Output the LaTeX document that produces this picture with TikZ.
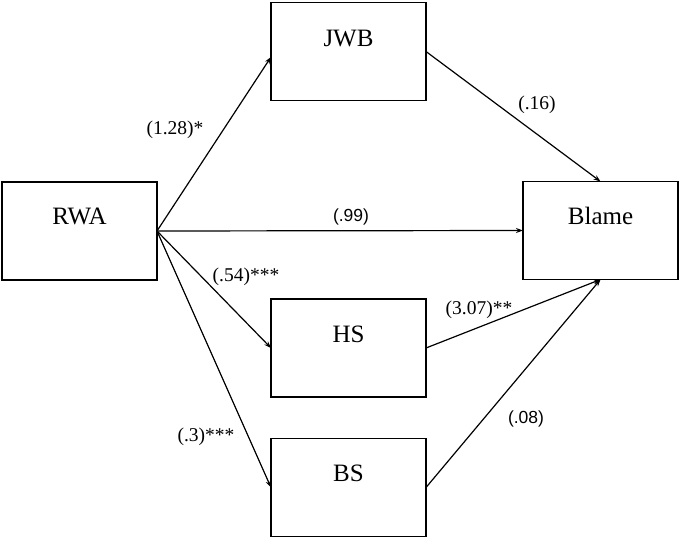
\documentclass[tikz,border=0pt]{standalone}
\usepackage{fontspec}
\setmainfont{Liberation Serif}
\newfontfamily\arialfont{Liberation Sans}
\usetikzlibrary{arrows.meta}
\tikzset{
  varbox/.style={draw, line width=1.9pt, minimum width=155pt, minimum height=98pt, inner sep=0pt, outer sep=0pt},
  boxtext/.style={font=\fontsize{25}{29}\selectfont, anchor=base, inner sep=0pt},
  path/.style={line width=1.2pt, -{Stealth[length=7pt,width=5pt]}},
  coef/.style={font=\fontsize{19.5}{22}\selectfont, inner sep=0pt},
  coefsans/.style={font=\arialfont\fontsize{17.5}{21}\selectfont, inner sep=0pt}
}
\begin{document}
\begin{tikzpicture}[x=1pt,y=-1pt]
\useasboundingbox (0,0) rectangle (680,540);
% boxes
\node[varbox] (JWB) at (348.5,51.5) {};
\node[varbox] (RWA) at (79.5,231) {};
\node[varbox] (Blame) at (600.5,230.5) {};
\node[varbox] (HS) at (348.5,348) {};
\node[varbox] (BS) at (348.5,487.5) {};
% box texts
\node[boxtext] (tJWB) at ([yshift=-44pt]JWB.north) {JWB};
\node[boxtext] (tRWA) at ([yshift=-43pt]RWA.north) {RWA};
\node[boxtext] (tBlame) at ([yshift=-43pt]Blame.north) {Blame};
\node[boxtext] (tHS) at ([yshift=-43pt]HS.north) {HS};
\node[boxtext] (tBS) at ([yshift=-43pt]BS.north) {BS};
% connectors
\coordinate (JWBin) at ([yshift=-5.5pt]JWB.west);
\draw[path] (RWA.east) -- (JWBin);
\draw[path] (RWA.east) -- (Blame.west);
\draw[path] (RWA.east) -- (HS.west);
\draw[path] (RWA.east) -- (BS.west);
\draw[path] (JWB.east) -- (Blame.north);
\draw[path] (HS.east) -- (Blame.south);
\draw[path] (BS.east) -- (Blame.south);
% coefficients
\node[coef] (c1) at (175,130) {(1.28)*};
\node[coef] (c2) at (537,105) {(.16)};
\node[coefsans] (c3) at (351,217) {(.99)};
\node[coef] (c4) at (246,277) {(.54)***};
\node[coef] (c5) at (479,310) {(3.07)**};
\node[coefsans] (c6) at (526,419) {(.08)};
\node[coef] (c7) at (206,437) {(.3)***};
\end{tikzpicture}
\end{document}
